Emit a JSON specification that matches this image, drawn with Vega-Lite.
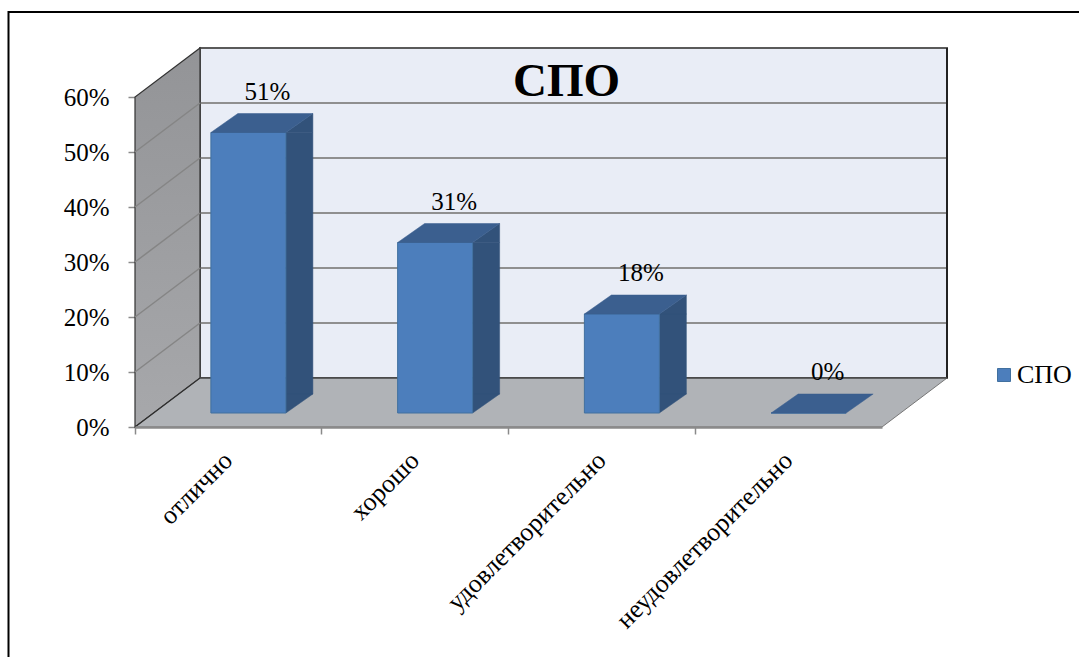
{
"$schema":"https://vega.github.io/schema/vega-lite/v6.json",
"width":747,"height":330,
"autosize":{"type":"none"},
"padding":{"left":135,"top":97,"right":197,"bottom":230},
"background":"white",
"title":{"text":"СПО","font":"Liberation Serif","fontSize":47,"fontWeight":"bold","color":"black","anchor":"middle","frame":"group","dx":58,"offset":-135,"baseline":"alphabetic"},
"config":{"view":{"stroke":null},"font":"Liberation Serif"},
"datasets":{
"bars":[{"category":"отлично","value":51,"label":"51%","series":"СПО"},{"category":"хорошо","value":31,"label":"31%","series":"СПО"},{"category":"удовлетворительно","value":18,"label":"18%","series":"СПО"},{"category":"неудовлетворительно","value":0,"label":"0%","series":"СПО"}],
"ticks":[{"tick":0},{"tick":10},{"tick":20},{"tick":30},{"tick":40},{"tick":50},{"tick":60}]
},
"encoding":{
"x":{"field":"category","type":"nominal","sort":null,"title":null,"scale":{"type":"band","domain":["отлично","хорошо","удовлетворительно","неудовлетворительно"],"paddingInner":0,"paddingOuter":0},
"axis":{"labelAngle":-45,"labelAlign":"right","labelBaseline":"middle","labelFont":"Liberation Serif","labelFontSize":26,"labelColor":"black","labelPadding":22,"tickColor":"#8a8a8a","tickWidth":1.5,"tickSize":7,"domainColor":"#8a8a8a","domainWidth":2.5,"grid":false,"labelOverlap":false,"labelLimit":0,"bandPosition":0,"zindex":1}},
"y":{"field":"value","type":"quantitative","title":null,"scale":{"domain":[0,60],"nice":false},
"axis":{"values":[0,10,20,30,40,50,60],"labelExpr":"datum.value + '%'","labelFont":"Liberation Serif","labelFontSize":25,"labelColor":"black","labelPadding":19,"tickColor":"#8a8a8a","tickWidth":1.5,"tickSize":7,"domain":false,"grid":false}}
},
"layer":[
{"data":{"name":"ticks"},"transform":[{"filter":"datum.tick === 0"}],
 "mark":{"type":"point","filled":true,"size":4,"opacity":1,"shape":"M65,-49L812,-49L812,-379L65,-379Z","fill":"#e9edf6","stroke":"#5a5a5a","strokeWidth":2},
 "encoding":{"x":{"datum":"отлично","type":"nominal","bandPosition":0},"y":{"field":"tick","type":"quantitative"}}},
{"data":{"name":"ticks"},"transform":[{"filter":"datum.tick > 0 && datum.tick < 60"}],
 "mark":{"type":"point","filled":false,"size":4,"opacity":1,"shape":"M65,-49L812,-49","stroke":"#8f8f8f","strokeWidth":2},
 "encoding":{"x":{"datum":"отлично","type":"nominal","bandPosition":0},"y":{"field":"tick","type":"quantitative"}}},
{"data":{"name":"ticks"},"transform":[{"filter":"datum.tick === 0"}],
 "mark":{"type":"point","filled":true,"size":4,"opacity":1,"shape":"M812,-379L812,-49","stroke":"#222222","strokeWidth":2},
 "encoding":{"x":{"datum":"отлично","type":"nominal","bandPosition":0},"y":{"field":"tick","type":"quantitative"}}},
{"data":{"name":"ticks"},"transform":[{"filter":"datum.tick === 0"}],
 "mark":{"type":"point","filled":true,"size":4,"opacity":1,"shape":"M0,0L65,-49L65,-379L0,-330Z","fill":{"gradient":"linear","x1":0,"y1":0,"x2":0,"y2":1,"stops":[{"offset":0,"color":"#939497"},{"offset":1,"color":"#a7a8ab"}]},"stroke":"#333333","strokeWidth":1.2},
 "encoding":{"x":{"datum":"отлично","type":"nominal","bandPosition":0},"y":{"field":"tick","type":"quantitative"}}},
{"data":{"name":"ticks"},"transform":[{"filter":"datum.tick > 0 && datum.tick < 60"}],
 "mark":{"type":"point","filled":false,"size":4,"opacity":1,"shape":"M0,0L65,-49","stroke":"#858585","strokeWidth":1.5},
 "encoding":{"x":{"datum":"отлично","type":"nominal","bandPosition":0},"y":{"field":"tick","type":"quantitative"}}},
{"data":{"name":"ticks"},"transform":[{"filter":"datum.tick === 0"}],
 "mark":{"type":"point","filled":true,"size":4,"opacity":1,"shape":"M0,0L747,0L812,-49L65,-49Z","fill":"#b0b3b7","stroke":"#777777","strokeWidth":1},
 "encoding":{"x":{"datum":"отлично","type":"nominal","bandPosition":0},"y":{"field":"tick","type":"quantitative"}}},
{"data":{"name":"ticks"},"transform":[{"filter":"datum.tick === 0"}],
 "mark":{"type":"point","filled":false,"size":4,"opacity":1,"shape":"M0,0L65,-49L812,-49","stroke":"#2c2c2c","strokeWidth":1.2},
 "encoding":{"x":{"datum":"отлично","type":"nominal","bandPosition":0},"y":{"field":"tick","type":"quantitative"}}},
{"data":{"name":"bars"},"transform":[{"filter":"datum.value > 0"}],
 "mark":{"type":"bar","width":27,"xOffset":71,"yOffset":-14,"y2Offset":-33,"fill":"#32527a","stroke":"#32527a","strokeWidth":0.5},
 "encoding":{"y2":{"datum":0}}},
{"data":{"name":"bars"},"transform":[{"filter":"datum.value > 0"}],
 "mark":{"type":"point","filled":true,"size":4,"opacity":1,"xOffset":20,"yOffset":-14,"shape":"M37.5,0L37.5,-19L64.5,-19Z","fill":"#32527a","stroke":"#32527a","strokeWidth":0.5},
 "encoding":{"y":{"datum":0}}},
{"data":{"name":"bars"},"transform":[{"filter":"datum.value > 0"}],
 "mark":{"type":"point","filled":true,"size":4,"opacity":1,"xOffset":20,"yOffset":-14,"shape":"M37.5,0L64.5,-19L64.5,0Z","fill":"#32527a","stroke":"#32527a","strokeWidth":0.5}},
{"data":{"name":"bars"},
 "mark":{"type":"bar","width":75,"xOffset":20,"yOffset":-14,"y2Offset":-14,"stroke":"#41709f","strokeWidth":1},
 "encoding":{"y2":{"datum":0},"color":{"field":"series","type":"nominal","scale":{"domain":["СПО"],"range":["#4c7ebc"]},
  "legend":{"title":null,"orient":"none","legendX":856,"legendY":265,"labelFont":"Liberation Serif","labelFontSize":26,"labelColor":"black","symbolType":"square","symbolSize":169,"symbolStrokeColor":"#41709f","symbolStrokeWidth":1,"labelOffset":0}}}},
{"data":{"name":"bars"},
 "mark":{"type":"point","filled":true,"size":4,"opacity":1,"xOffset":20,"yOffset":-14,"shape":"M-37.5,0L37.5,0L64.5,-19L-10.5,-19Z","fill":"#3b5f8f","stroke":"#3b5f8f","strokeWidth":0.5}},
{"data":{"name":"bars"},
 "mark":{"type":"text","font":"Liberation Serif","fontSize":25,"color":"black","xOffset":39,"yOffset":-47,"baseline":"alphabetic","align":"center"},
 "encoding":{"text":{"field":"label","type":"nominal"}}},
{"data":{"name":"ticks"},"transform":[{"filter":"datum.tick === 0"}],
 "mark":{"type":"point","filled":false,"size":4,"opacity":1,"shape":"M-126.5,231L-126.5,-415L945,-415","stroke":"black","strokeWidth":2},
 "encoding":{"x":{"datum":"отлично","type":"nominal","bandPosition":0},"y":{"field":"tick","type":"quantitative"}}}
]
}
